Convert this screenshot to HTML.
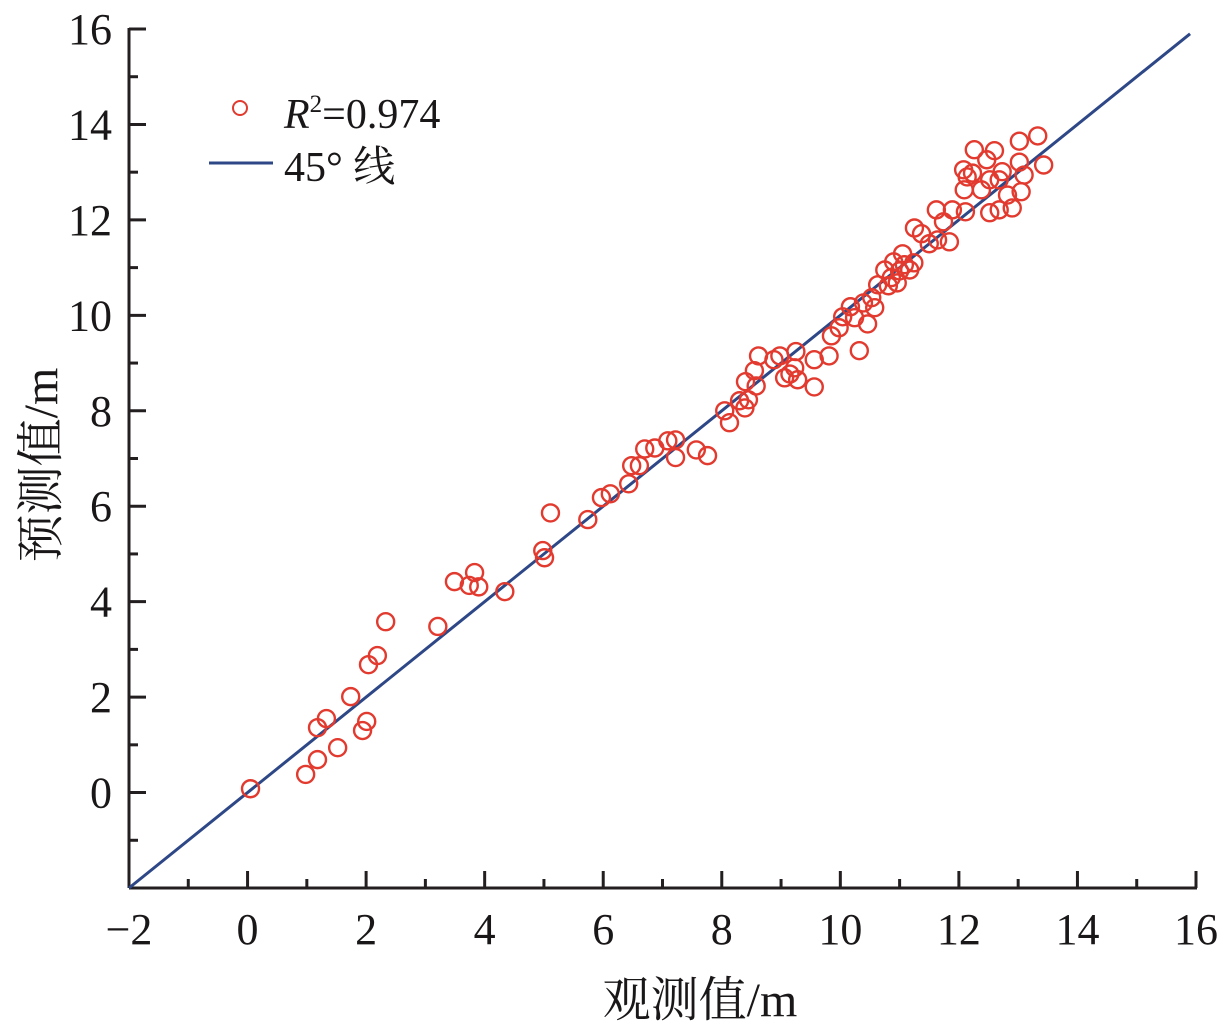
<!DOCTYPE html>
<html><head><meta charset="utf-8"><style>
html,body{margin:0;padding:0;background:#fff;}
svg{display:block;}
text{font-family:"Liberation Serif","Noto Serif CJK SC",serif;fill:#1a1718;}
</style></head><body>
<svg id="chart" width="1225" height="1032" viewBox="0 0 1225 1032">
<g id="axes"></g>
<g id="marks"></g>
<g>
  <circle cx="240" cy="108" r="7" fill="none" stroke="#e23a2e" stroke-width="2"/>
  <text x="284" y="128" font-size="42"><tspan font-style="italic">R</tspan><tspan font-size="25" dy="-16">2</tspan><tspan dy="16">=0.974</tspan></text>
  <line x1="209" y1="163" x2="273" y2="163" stroke="#2d4787" stroke-width="3"/>
  <text x="284" y="181" font-size="42">45° 线</text>
</g>
<text x="700" y="1016" font-size="48" text-anchor="middle">观测值/m</text>
<text transform="translate(57,465) rotate(-90)" font-size="48" text-anchor="middle">预测值/m</text>
</svg>
<script>
const obsX=[0.05,0.98,1.18,1.18,1.33,1.52,1.74,1.94,2.01,2.04,2.19,2.33,3.21,3.49,3.74,3.83,3.90,4.34,4.98,5.01,5.11,5.74,5.97,6.12,6.43,6.48,6.61,6.70,6.87,7.09,7.22,7.22,7.57,7.76,8.05,8.13,8.30,8.39,8.40,8.45,8.55,8.58,8.62,8.88,8.98,9.06,9.15,9.23,9.28,9.25,9.56,9.56,9.81,9.85,9.98,10.04,10.17,10.24,10.32,10.39,10.46,10.53,10.58,10.63,10.75,10.81,10.86,10.90,10.96,11.00,11.05,11.08,11.17,11.24,11.25,11.37,11.50,11.62,11.64,11.74,11.84,11.89,12.11,12.09,12.14,12.08,12.23,12.26,12.38,12.47,12.52,12.52,12.60,12.68,12.68,12.73,12.82,12.90,13.02,13.02,13.05,13.10,13.33,13.43];
const predY=[0.08,0.38,0.69,1.36,1.55,0.94,2.01,1.30,1.49,2.68,2.87,3.58,3.48,4.42,4.34,4.61,4.31,4.21,5.07,4.92,5.86,5.72,6.18,6.26,6.47,6.85,6.85,7.20,7.22,7.37,7.39,7.02,7.18,7.06,8.00,7.75,8.21,8.06,8.61,8.23,8.84,8.52,9.15,9.07,9.15,8.69,8.77,8.90,8.65,9.24,8.50,9.07,9.15,9.57,9.74,9.97,10.18,9.95,9.26,10.26,9.82,10.37,10.16,10.64,10.95,10.62,10.79,11.12,10.68,10.93,11.29,11.06,10.95,11.10,11.83,11.71,11.50,12.21,11.58,11.96,11.54,12.21,12.17,12.63,12.90,13.05,12.98,13.47,12.63,13.26,12.84,12.15,13.45,12.21,12.84,13.01,12.52,12.25,13.65,13.21,12.59,12.94,13.76,13.15];
const xTicks=[-2,0,2,4,6,8,10,12,14,16];
const yTicks=[0,2,4,6,8,10,12,14,16];
const lineEnds=[-2,15.9];
const NS="http://www.w3.org/2000/svg";
function sx(v){return 129+(v+2)*(1196-129)/18;}
function sy(v){return 888-(v+2)*(888-29)/18;}
function mk(tag,attrs,parent){const e=document.createElementNS(NS,tag);for(const k in attrs)e.setAttribute(k,attrs[k]);parent.appendChild(e);return e;}
const axes=document.getElementById('axes');
let e;
e=mk('line',{x1:129,y1:888,x2:1197,y2:888,stroke:'#231f20','stroke-width':3},axes);


e=mk('line',{x1:129,y1:888,x2:129,y2:28,stroke:'#231f20','stroke-width':3},axes);


for(let v=-1;v<=15;v+=2){
  e=mk('line',{x1:sx(v),y1:888,x2:sx(v),y2:879,stroke:'#231f20','stroke-width':3},axes);
  
  
}
for(let v=-1;v<=15;v+=2){
  e=mk('line',{x1:129,y1:sy(v),x2:138,y2:sy(v),stroke:'#231f20','stroke-width':3},axes);
  
  
}
xTicks.forEach(v=>{
  e=mk('line',{x1:sx(v),y1:888,x2:sx(v),y2:871,stroke:'#231f20','stroke-width':3},axes);
  
  
  e=mk('text',{x:sx(v),y:944,'font-size':44,'text-anchor':'middle'},axes);
  e.textContent=v<0?'\u2212'+Math.abs(v):String(v);
  
  
});
yTicks.forEach(v=>{
  e=mk('line',{x1:129,y1:sy(v),x2:146,y2:sy(v),stroke:'#231f20','stroke-width':3},axes);
  
  
  e=mk('text',{x:112,y:sy(v)+15,'font-size':44,'text-anchor':'end'},axes);
  e.textContent=String(v);
  
  
});
const marks=document.getElementById('marks');
e=mk('line',{x1:sx(lineEnds[0]),y1:sy(lineEnds[0]),x2:sx(lineEnds[1]),y2:sy(lineEnds[1]),stroke:'#2d4787','stroke-width':3},marks);


obsX.forEach((x,i)=>{
  const c=mk('circle',{cx:sx(x),cy:sy(predY[i]),r:8.5,fill:'none',stroke:'#e23a2e','stroke-width':2.4},marks);
  
  
});
</script>
</body></html>
